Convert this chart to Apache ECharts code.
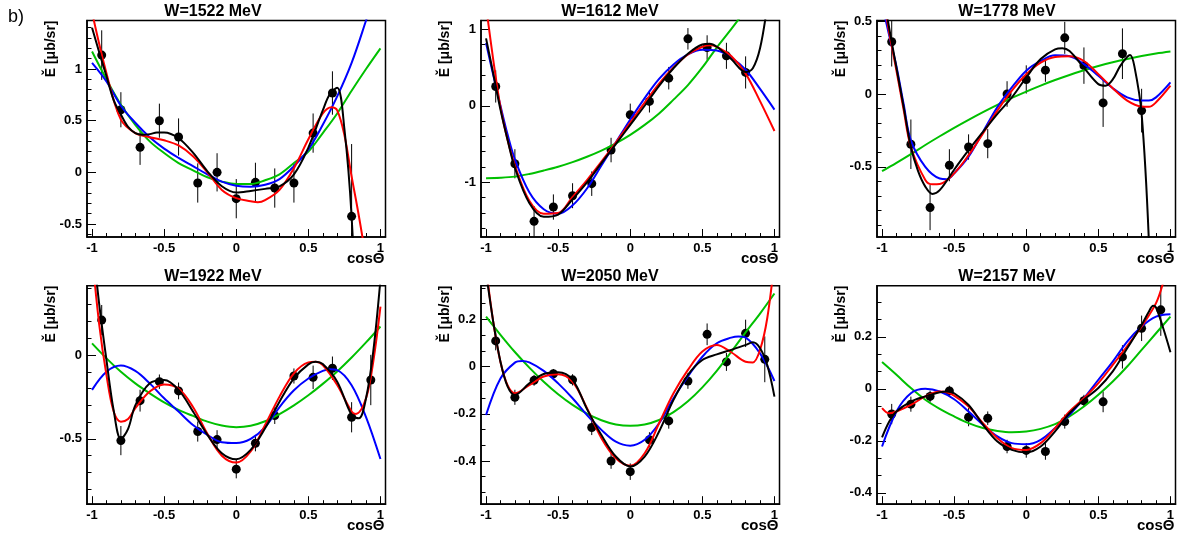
<!DOCTYPE html>
<html><head><meta charset="utf-8">
<script src="https://cdn.jsdelivr.net/npm/echarts@6/dist/echarts.min.js"></script>
<style>html,body{margin:0;padding:0;background:#fff}#c{width:1182px;height:540px}</style>
</head><body><div id="c"></div>
<script>
// ---------- data ----------
const titles = ['W=1522 MeV','W=1612 MeV','W=1778 MeV','W=1922 MeV','W=2050 MeV','W=2157 MeV'];
const cosBins = [-0.933,-0.8,-0.667,-0.533,-0.4,-0.267,-0.133,0,0.133,0.267,0.4,0.533,0.667,0.8,0.933];
const xTicks = [-1,-0.5,0,0.5,1];

const val1522 = [1.135,0.606,0.242,0.5,0.342,-0.103,0.0,-0.255,-0.097,-0.152,-0.103,0.38,0.768,-0.426];
const err1522 = [0.24,0.17,0.17,0.165,0.18,0.19,0.185,0.19,0.19,0.19,0.19,0.19,0.21,0.7];
const val1612 = [0.252,-0.757,-1.509,-1.322,-1.174,-1.017,-0.578,-0.117,0.057,0.36,0.874,0.76,0.652,0.435];
const err1612 = [0.21,0.19,0.2,0.165,0.163,0.16,0.16,0.145,0.145,0.147,0.14,0.16,0.17,0.21];
const val1778 = [0.359,-0.345,-0.78,-0.489,-0.364,-0.341,0.0,0.1,0.164,0.386,0.195,-0.061,0.277,-0.114];
const err1778 = [0.17,0.17,0.155,0.11,0.087,0.1,0.088,0.097,0.08,0.11,0.125,0.165,0.174,0.15];
const val1922 = [0.208,-0.51,-0.272,-0.159,-0.214,-0.456,-0.504,-0.68,-0.526,-0.361,-0.125,-0.133,-0.079,-0.371,-0.149];
const err1922 = [0.09,0.087,0.065,0.043,0.05,0.06,0.056,0.055,0.048,0.05,0.045,0.07,0.07,0.09,0.15];
const val2050 = [0.109,-0.13,-0.058,-0.03,-0.056,-0.258,-0.4,-0.445,-0.31,-0.23,-0.061,0.137,0.02,0.141,0.031];
const err2050 = [0.04,0.032,0.023,0.02,0.024,0.032,0.033,0.035,0.032,0.033,0.033,0.046,0.038,0.058,0.097];
const val2157 = [-0.097,-0.059,-0.029,-0.008,-0.109,-0.113,-0.222,-0.237,-0.241,-0.126,-0.046,-0.05,0.123,0.233,0.304];
const err2157 = [0.039,0.029,0.022,0.02,0.035,0.026,0.026,0.028,0.032,0.027,0.023,0.04,0.045,0.049,0.1];

// fitted curves: [cosTheta, value]
const black1522 = [[-1,1.40],[-0.95,1.16],[-0.9,0.93],[-0.85,0.70],[-0.8,0.56],[-0.75,0.44],[-0.7,0.38],[-0.65,0.365],[-0.6,0.37],[-0.55,0.385],[-0.5,0.385],[-0.4,0.33],[-0.3,0.19],[-0.2,0.01],[-0.1,-0.135],[0,-0.195],[0.1,-0.18],[0.2,-0.16],[0.3,-0.135],[0.4,-0.02],[0.5,0.24],[0.6,0.6],[0.65,0.76],[0.7,0.82],[0.75,0.42],[0.8,-0.43],[0.85,-2.0]];
const red1522 = [[-1,1.55],[-0.9,0.96],[-0.8,0.51],[-0.7,0.38],[-0.6,0.34],[-0.5,0.31],[-0.4,0.26],[-0.3,0.155],[-0.2,0.0],[-0.1,-0.17],[0,-0.25],[0.1,-0.28],[0.15,-0.29],[0.2,-0.27],[0.3,-0.17],[0.4,0.04],[0.5,0.32],[0.6,0.57],[0.66,0.63],[0.7,0.6],[0.75,0.36],[0.8,-0.04],[0.85,-0.42],[0.9,-0.85],[1,-1.9]];
const blue1522 = [[-1,1.06],[-0.9,0.88],[-0.8,0.645],[-0.7,0.48],[-0.6,0.34],[-0.5,0.23],[-0.4,0.14],[-0.3,0.06],[-0.2,-0.02],[-0.1,-0.09],[0,-0.13],[0.1,-0.14],[0.2,-0.12],[0.3,-0.065],[0.4,0.06],[0.5,0.22],[0.6,0.46],[0.7,0.735],[0.8,1.06],[0.9,1.47],[1,1.9]];
const green1522 = [[-1,1.17],[-0.9,0.9],[-0.8,0.655],[-0.7,0.46],[-0.6,0.3],[-0.5,0.187],[-0.4,0.09],[-0.3,0.02],[-0.2,-0.048],[-0.1,-0.09],[0,-0.113],[0.1,-0.113],[0.2,-0.077],[0.3,-0.02],[0.4,0.09],[0.5,0.2],[0.6,0.38],[0.7,0.57],[0.8,0.79],[0.9,1.0],[1,1.2]];

const black1612 = [[-1,0.88],[-0.95,0.42],[-0.9,-0.05],[-0.85,-0.45],[-0.8,-0.81],[-0.7,-1.27],[-0.6,-1.45],[-0.5,-1.42],[-0.4,-1.22],[-0.3,-1.0],[-0.2,-0.75],[-0.1,-0.5],[0,-0.25],[0.1,0.0],[0.2,0.26],[0.3,0.49],[0.4,0.68],[0.5,0.8],[0.55,0.81],[0.6,0.77],[0.7,0.61],[0.8,0.44],[0.85,0.49],[0.9,0.75],[0.95,1.3],[1,2.0]];
const red1612 = [[-1,1.3],[-0.95,0.6],[-0.9,-0.02],[-0.85,-0.45],[-0.8,-0.78],[-0.7,-1.24],[-0.6,-1.41],[-0.5,-1.4],[-0.4,-1.19],[-0.3,-0.97],[-0.2,-0.73],[-0.1,-0.48],[0,-0.22],[0.1,0.04],[0.2,0.29],[0.3,0.5],[0.4,0.67],[0.5,0.77],[0.55,0.79],[0.6,0.77],[0.7,0.65],[0.8,0.42],[0.9,0.06],[1,-0.33]];
const blue1612 = [[-1,0.82],[-0.95,0.4],[-0.9,0.0],[-0.85,-0.38],[-0.8,-0.7],[-0.7,-1.13],[-0.6,-1.35],[-0.5,-1.41],[-0.4,-1.3],[-0.3,-1.08],[-0.2,-0.78],[-0.1,-0.48],[0,-0.18],[0.1,0.1],[0.2,0.35],[0.3,0.54],[0.4,0.67],[0.5,0.73],[0.6,0.72],[0.7,0.63],[0.8,0.47],[0.9,0.22],[1,-0.05]];
const green1612 = [[-1,-0.945],[-0.9,-0.94],[-0.8,-0.925],[-0.7,-0.89],[-0.6,-0.845],[-0.5,-0.795],[-0.4,-0.735],[-0.3,-0.665],[-0.2,-0.585],[-0.1,-0.49],[0,-0.38],[0.1,-0.25],[0.2,-0.1],[0.3,0.08],[0.4,0.27],[0.5,0.5],[0.6,0.76],[0.7,1.0],[0.8,1.25]];

const black1778 = [[-1,0.75],[-0.95,0.45],[-0.9,0.18],[-0.85,-0.09],[-0.8,-0.364],[-0.75,-0.53],[-0.7,-0.636],[-0.65,-0.686],[-0.6,-0.66],[-0.5,-0.52],[-0.4,-0.386],[-0.3,-0.26],[-0.2,-0.136],[-0.1,-0.023],[0,0.114],[0.1,0.24],[0.2,0.307],[0.25,0.314],[0.3,0.295],[0.4,0.18],[0.5,0.068],[0.55,0.057],[0.6,0.1],[0.65,0.19],[0.7,0.255],[0.72,0.268],[0.75,0.19],[0.8,-0.136],[0.85,-1.0],[0.9,-2.5]];
const red1778 = [[-1,0.72],[-0.95,0.42],[-0.9,0.16],[-0.85,-0.11],[-0.8,-0.364],[-0.7,-0.59],[-0.65,-0.62],[-0.6,-0.618],[-0.5,-0.545],[-0.4,-0.42],[-0.3,-0.27],[-0.2,-0.114],[-0.1,0.023],[0,0.136],[0.1,0.216],[0.2,0.255],[0.3,0.26],[0.4,0.227],[0.5,0.136],[0.6,0.04],[0.7,-0.045],[0.8,-0.086],[0.85,-0.088],[0.9,-0.057],[1,0.057]];
const blue1778 = [[-1,0.62],[-0.95,0.4],[-0.9,0.19],[-0.85,-0.07],[-0.8,-0.318],[-0.7,-0.5],[-0.6,-0.58],[-0.55,-0.585],[-0.5,-0.545],[-0.4,-0.43],[-0.3,-0.26],[-0.2,-0.09],[-0.1,0.045],[0,0.16],[0.1,0.227],[0.2,0.266],[0.3,0.26],[0.4,0.205],[0.5,0.125],[0.6,0.04],[0.7,-0.023],[0.8,-0.045],[0.85,-0.045],[0.9,-0.023],[1,0.08]];
const green1778 = [[-1,-0.53],[-0.9,-0.473],[-0.8,-0.413],[-0.7,-0.35],[-0.6,-0.29],[-0.5,-0.232],[-0.4,-0.177],[-0.3,-0.124],[-0.2,-0.074],[-0.1,-0.027],[0,0.017],[0.1,0.058],[0.2,0.096],[0.3,0.131],[0.4,0.163],[0.5,0.192],[0.6,0.218],[0.7,0.241],[0.8,0.261],[0.9,0.278],[1,0.292]];

const black1922 = [[-1,0.7],[-0.95,0.3],[-0.9,-0.03],[-0.85,-0.33],[-0.8,-0.5],[-0.75,-0.44],[-0.7,-0.3],[-0.6,-0.169],[-0.5,-0.149],[-0.4,-0.208],[-0.3,-0.337],[-0.2,-0.476],[-0.1,-0.585],[0,-0.621],[0.1,-0.565],[0.2,-0.437],[0.3,-0.278],[0.4,-0.139],[0.5,-0.056],[0.55,-0.04],[0.6,-0.054],[0.7,-0.159],[0.8,-0.357],[0.85,-0.377],[0.9,-0.258],[0.95,0.02],[1,0.45]];
const red1922 = [[-1,0.6],[-0.95,0.18],[-0.9,-0.12],[-0.85,-0.337],[-0.8,-0.397],[-0.75,-0.381],[-0.7,-0.317],[-0.6,-0.218],[-0.5,-0.175],[-0.4,-0.2],[-0.3,-0.31],[-0.2,-0.47],[-0.1,-0.6],[0,-0.641],[0.1,-0.575],[0.2,-0.417],[0.3,-0.248],[0.4,-0.109],[0.5,-0.044],[0.55,-0.04],[0.6,-0.06],[0.7,-0.179],[0.8,-0.337],[0.83,-0.351],[0.9,-0.258],[0.95,-0.04],[1,0.288]];
const blue1922 = [[-1,-0.208],[-0.9,-0.1],[-0.8,-0.063],[-0.7,-0.095],[-0.6,-0.169],[-0.5,-0.258],[-0.4,-0.337],[-0.3,-0.417],[-0.2,-0.476],[-0.1,-0.52],[0,-0.525],[0.1,-0.5],[0.2,-0.43],[0.3,-0.31],[0.4,-0.21],[0.5,-0.14],[0.6,-0.095],[0.65,-0.085],[0.7,-0.09],[0.8,-0.18],[0.9,-0.37],[1,-0.62]];
const green1922 = [[-1,0.069],[-0.9,-0.02],[-0.8,-0.1],[-0.7,-0.169],[-0.6,-0.228],[-0.5,-0.282],[-0.4,-0.327],[-0.3,-0.363],[-0.2,-0.397],[-0.1,-0.42],[0,-0.43],[0.1,-0.422],[0.2,-0.395],[0.3,-0.352],[0.4,-0.3],[0.5,-0.24],[0.6,-0.172],[0.7,-0.098],[0.8,-0.015],[0.9,0.075],[1,0.17]];

const black2050 = [[-1,0.4],[-0.95,0.19],[-0.9,0.021],[-0.85,-0.085],[-0.8,-0.12],[-0.7,-0.071],[-0.6,-0.031],[-0.5,-0.024],[-0.4,-0.056],[-0.3,-0.18],[-0.2,-0.29],[-0.1,-0.381],[0,-0.423],[0.1,-0.381],[0.2,-0.275],[0.3,-0.141],[0.4,-0.035],[0.5,0.028],[0.6,0.052],[0.7,0.071],[0.8,0.092],[0.85,0.103],[0.9,0.078],[0.95,0.007],[1,-0.127]];
const red2050 = [[-1,0.42],[-0.95,0.19],[-0.9,0.02],[-0.85,-0.08],[-0.8,-0.113],[-0.7,-0.078],[-0.6,-0.042],[-0.5,-0.032],[-0.4,-0.064],[-0.3,-0.176],[-0.2,-0.303],[-0.1,-0.388],[0,-0.42],[0.1,-0.367],[0.2,-0.24],[0.3,-0.113],[0.4,-0.014],[0.5,0.064],[0.6,0.092],[0.7,0.061],[0.8,0.021],[0.85,0.018],[0.9,0.071],[0.95,0.205],[1,0.45]];
const blue2050 = [[-1,-0.205],[-0.9,-0.05],[-0.8,0.017],[-0.75,0.024],[-0.7,0.018],[-0.6,-0.018],[-0.5,-0.071],[-0.4,-0.134],[-0.3,-0.205],[-0.2,-0.268],[-0.1,-0.318],[0,-0.335],[0.1,-0.31],[0.2,-0.24],[0.3,-0.134],[0.4,-0.042],[0.5,0.042],[0.6,0.099],[0.7,0.123],[0.75,0.128],[0.8,0.123],[0.9,0.056],[1,-0.061]];
const green2050 = [[-1,0.212],[-0.9,0.135],[-0.8,0.062],[-0.7,-0.004],[-0.6,-0.064],[-0.5,-0.117],[-0.4,-0.162],[-0.3,-0.199],[-0.2,-0.227],[-0.1,-0.245],[0,-0.251],[0.1,-0.245],[0.2,-0.226],[0.3,-0.193],[0.4,-0.147],[0.5,-0.088],[0.6,-0.018],[0.7,0.062],[0.8,0.145],[0.9,0.225],[1,0.31]];

const black2157 = [[-1,-0.187],[-0.95,-0.126],[-0.9,-0.087],[-0.8,-0.049],[-0.7,-0.029],[-0.6,-0.013],[-0.55,-0.01],[-0.5,-0.017],[-0.4,-0.062],[-0.3,-0.138],[-0.2,-0.203],[-0.1,-0.235],[0,-0.245],[0.1,-0.222],[0.2,-0.164],[0.3,-0.094],[0.4,-0.042],[0.5,0.003],[0.6,0.067],[0.7,0.156],[0.8,0.246],[0.85,0.297],[0.88,0.32],[0.9,0.313],[0.95,0.233],[1,0.141]];
const red2157 = [[-1,-0.074],[-0.95,-0.094],[-0.9,-0.087],[-0.8,-0.062],[-0.7,-0.029],[-0.6,-0.01],[-0.55,-0.013],[-0.5,-0.026],[-0.4,-0.068],[-0.3,-0.132],[-0.2,-0.19],[-0.1,-0.228],[0,-0.235],[0.1,-0.209],[0.2,-0.151],[0.3,-0.087],[0.4,-0.036],[0.5,0.022],[0.6,0.092],[0.7,0.165],[0.8,0.24],[0.9,0.33],[0.95,0.41],[1,0.52]];
const blue2157 = [[-1,-0.222],[-0.9,-0.087],[-0.8,-0.017],[-0.7,0.0],[-0.6,-0.01],[-0.5,-0.04],[-0.4,-0.087],[-0.3,-0.138],[-0.2,-0.183],[-0.1,-0.209],[0,-0.213],[0.1,-0.196],[0.2,-0.151],[0.3,-0.1],[0.4,-0.036],[0.5,0.035],[0.6,0.105],[0.7,0.182],[0.8,0.24],[0.9,0.278],[1,0.287]];
const green2157 = [[-1,0.103],[-0.9,0.054],[-0.8,0.003],[-0.7,-0.042],[-0.6,-0.077],[-0.5,-0.106],[-0.4,-0.132],[-0.3,-0.151],[-0.2,-0.162],[-0.1,-0.167],[0,-0.164],[0.1,-0.154],[0.2,-0.136],[0.3,-0.106],[0.4,-0.068],[0.5,-0.023],[0.6,0.028],[0.7,0.086],[0.8,0.15],[0.9,0.214],[1,0.278]];

// y axis ranges and tick labels per panel
const yRanges = [[-0.626,1.47],[-1.713,1.113],[-0.982,0.505],[-0.889,0.413],[-0.583,0.343],[-0.444,0.397]];
const yTicks = [[-0.5,0,0.5,1],[-1,0,1],[-0.5,0,0.5],[-0.5,0],[-0.4,-0.2,0,0.2],[-0.4,-0.2,0,0.2]];
const yMinorStep = [0.1,0.2,0.1,0.1,0.2/3,0.2/3];

const values = [val1522,val1612,val1778,val1922,val2050,val2157];
const errors = [err1522,err1612,err1778,err1922,err2050,err2157];
const curves = [
  [green1522,blue1522,red1522,black1522],
  [green1612,blue1612,red1612,black1612],
  [green1778,blue1778,red1778,black1778],
  [green1922,blue1922,red1922,black1922],
  [green2050,blue2050,red2050,black2050],
  [green2157,blue2157,red2157,black2157]
];
const curveColors = ['#00c000','#0000ff','#ff0000','#000000'];

// ---------- layout ----------
const X_MIN = -1.035, X_MAX = 1.035;
const colLeft = [87, 481, 877];
const rowTop = [20.5, 285.7];
const rowH = [216.5, 218.5];
const GW = 298.5;
const FONT = '"Liberation Sans", Arial, sans-serif';

function minorList(lo, hi, step, majors) {
  const out = [];
  const k0 = Math.ceil(lo / step - 1e-6), k1 = Math.floor(hi / step + 1e-6);
  for (let k = k0; k <= k1; k++) {
    const v = +(k * step).toFixed(6);
    if (!majors.some(m => Math.abs(m - v) < 1e-6)) out.push(v);
  }
  return out;
}
const xMinor = minorList(-1, 1, 0.1, xTicks);

const grid = [], xAxis = [], yAxis = [], series = [], graphic = [];
const labelStyle = { color: '#000', fontFamily: FONT, fontWeight: 'bold', fontSize: 13 };

for (let p = 0; p < 6; p++) {
  const c = p % 3, r = Math.floor(p / 3);
  const L = colLeft[c], T = rowTop[r], H = rowH[r];
  grid.push({ left: L, top: T, width: GW, height: H, show: true, borderColor: '#000', borderWidth: 1.5,
              backgroundColor: 'transparent', containLabel: false, outerBoundsMode: 'none' });
  const [ymin, ymax] = yRanges[p];
  const yMinor = minorList(ymin, ymax, yMinorStep[p], yTicks[p]);
  xAxis.push({ gridIndex: p, type: 'value', min: X_MIN, max: X_MAX, position: 'bottom',
    axisLine: { show: true, onZero: false, lineStyle: { color: '#000', width: 1.5 } },
    axisTick: { show: true, inside: true, length: 8, customValues: xTicks, lineStyle: { color: '#000', width: 1 } },
    axisLabel: Object.assign({ show: true, customValues: xTicks, margin: 5, formatter: v => String(v), hideOverlap: false }, labelStyle),
    splitLine: { show: false } });
  xAxis.push({ gridIndex: p, type: 'value', min: X_MIN, max: X_MAX, position: 'bottom',
    axisLine: { show: false, onZero: false },
    axisTick: { show: true, inside: true, length: 4, customValues: xMinor, lineStyle: { color: '#000', width: 1 } },
    axisLabel: { show: false }, splitLine: { show: false } });
  yAxis.push({ gridIndex: p, type: 'value', min: ymin, max: ymax, position: 'left',
    axisLine: { show: true, onZero: false, lineStyle: { color: '#000', width: 1.5 } },
    axisTick: { show: true, inside: true, length: 9, customValues: yTicks[p], lineStyle: { color: '#000', width: 1 } },
    axisLabel: Object.assign({ show: true, customValues: yTicks[p], margin: 5, formatter: v => String(v), hideOverlap: false }, labelStyle),
    splitLine: { show: false } });
  yAxis.push({ gridIndex: p, type: 'value', min: ymin, max: ymax, position: 'left',
    axisLine: { show: false, onZero: false },
    axisTick: { show: true, inside: true, length: 4.5, customValues: yMinor, lineStyle: { color: '#000', width: 1 } },
    axisLabel: { show: false }, splitLine: { show: false } });

  curves[p].forEach((crv, i) => {
    series.push({ type: 'line', xAxisIndex: 2 * p, yAxisIndex: 2 * p, data: crv, showSymbol: false, symbol: 'none',
      smooth: 0.35, clip: true, silent: true,
      lineStyle: { color: curveColors[i], width: 2 } });
  });
  const pts = values[p].map((v, i) => [cosBins[i], v, errors[p][i]]);
  series.push({ type: 'custom', xAxisIndex: 2 * p, yAxisIndex: 2 * p, data: pts, clip: true, silent: true,
    renderItem: (params, api) => {
      const x = api.value(0), y = api.value(1), e = api.value(2);
      const a = api.coord([x, y - e]), b = api.coord([x, y + e]);
      return { type: 'line', shape: { x1: a[0], y1: a[1], x2: b[0], y2: b[1] }, style: { stroke: '#000', lineWidth: 1 } };
    } });
  series.push({ type: 'scatter', xAxisIndex: 2 * p, yAxisIndex: 2 * p, data: pts.map(d => [d[0], d[1]]),
    symbol: 'circle', symbolSize: 9, itemStyle: { color: '#000', opacity: 1 }, clip: true, silent: true });

  // texts
  graphic.push({ type: 'text', x: [213, 610, 1007][c], y: T - 9, style: { text: titles[p], align: 'center', verticalAlign: 'middle',
    font: 'bold 16px ' + FONT, fill: '#000' } });
  graphic.push({ type: 'text', x: L - 36, y: T, rotation: Math.PI / 2, style: { text: 'Ě [μb/sr]', align: 'right', verticalAlign: 'middle',
    font: 'bold 14px ' + FONT, fill: '#000' } });
  graphic.push({ type: 'text', x: L + GW - 1, y: T + H + 22, style: { text: 'cosΘ', align: 'right', verticalAlign: 'middle',
    font: 'bold 15px ' + FONT, fill: '#000' } });
}
graphic.push({ type: 'text', x: 8, y: 17, style: { text: 'b)', align: 'left', verticalAlign: 'middle', font: '18px ' + FONT, fill: '#000' } });

const chart = echarts.init(document.getElementById('c'), null, { renderer: 'canvas' });
chart.setOption({ animation: false, backgroundColor: '#fff', grid, xAxis, yAxis, series, graphic });
</script>
</body></html>
